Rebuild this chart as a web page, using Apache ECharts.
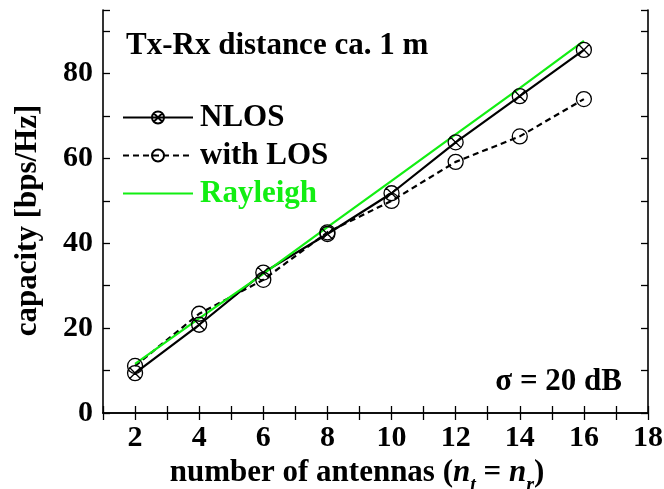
<!DOCTYPE html>
<html>
<head>
<meta charset="utf-8">
<script src="https://cdn.jsdelivr.net/npm/echarts@6/dist/echarts.min.js"></script>
<style>
  html, body { margin: 0; padding: 0; background: #fff; }
  #chart { width: 664px; height: 489px; }
</style>
</head>
<body>
<div id="chart"></div>
<script>
// Number of antennas (n_t = n_r)
const antennas = [2, 4, 6, 8, 10, 12, 14, 16];
// Capacity in bps/Hz
const nlos = [9.4, 20.8, 33.1, 42.2, 51.8, 63.8, 74.7, 85.6];
const withLos = [11.1, 23.4, 31.4, 42.6, 50.0, 59.2, 65.2, 74.0];
const rayleigh = [11.6, 22.3, 32.8, 43.8, 54.7, 65.7, 76.6, 87.7];

const xTickLabels = [2, 4, 6, 8, 10, 12, 14, 16, 18];
const yTickLabels = [0, 20, 40, 60, 80];

const FONT = '"Liberation Serif", "Times New Roman", serif';
const GREEN = '#12ee12';

// circle with a diagonal cross inside
const crossedCircle = 'path://M10,0 A10,10 0 1,1 -10,0 A10,10 0 1,1 10,0 Z M-7.07,-7.07 L7.07,7.07 M7.07,-7.07 L-7.07,7.07';

const pairs = (ys) => antennas.map((x, i) => [x, ys[i]]);

const chart = echarts.init(document.getElementById('chart'), null, { renderer: 'canvas' });

const baseAxisLine = { show: true, lineStyle: { color: '#000', width: 1.6 } };
const inTick = { show: true, inside: true, length: 7, lineStyle: { color: '#000', width: 1.3 } };

chart.setOption({
  animation: false,
  backgroundColor: '#fff',
  grid: { left: 103, right: 16, top: 10, bottom: 76, containLabel: false, outerBoundsMode: 'none' },
  xAxis: [
    {
      type: 'value', min: 1, max: 18, interval: 1,
      axisLine: baseAxisLine, axisTick: inTick, splitLine: { show: false },
      axisLabel: {
        margin: 10, color: '#000', fontFamily: FONT, fontWeight: 'bold', fontSize: 30,
        formatter: (v) => (xTickLabels.indexOf(v) >= 0 ? String(v) : '')
      },
      name: '{a|number of antennas (}{i|n}{s|t}{a| = }{i|n}{s|r}{a|)}',
      nameLocation: 'middle', nameGap: 34,
      nameTextStyle: {
        padding: [0, 37, 0, 0],
        rich: {
          a: { fontFamily: FONT, fontWeight: 'bold', fontSize: 31, color: '#000' },
          i: { fontFamily: FONT, fontWeight: 'bold', fontStyle: 'italic', fontSize: 31, color: '#000' },
          s: { fontFamily: FONT, fontWeight: 'bold', fontStyle: 'italic', fontSize: 20, color: '#000', padding: [24, 0, 0, 0] }
        }
      }
    },
    {
      type: 'value', min: 1, max: 18, interval: 1, position: 'top',
      axisLine: baseAxisLine, axisTick: inTick, axisLabel: { show: false }, splitLine: { show: false }
    }
  ],
  yAxis: [
    {
      type: 'value', min: 0, max: 95, interval: 10,
      axisLine: baseAxisLine, axisTick: inTick, splitLine: { show: false },
      axisLabel: {
        margin: 10, color: '#000', fontFamily: FONT, fontWeight: 'bold', fontSize: 30,
        formatter: (v) => (yTickLabels.indexOf(v) >= 0 ? String(v) : '')
      },
      name: 'capacity [bps/Hz]',
      nameLocation: 'middle', nameGap: 60,
      nameTextStyle: { fontFamily: FONT, fontWeight: 'bold', fontSize: 31, color: '#000', padding: [0, 18, 0, 0] }
    },
    {
      type: 'value', min: 0, max: 95, interval: 10, position: 'right',
      axisLine: baseAxisLine, axisTick: inTick, axisLabel: { show: false }, splitLine: { show: false }
    }
  ],
  legend: {
    orient: 'vertical', left: 122, top: 102, padding: 0,
    itemWidth: 70, itemHeight: 15, itemGap: 7,
    textStyle: { fontFamily: FONT, fontWeight: 'bold', fontSize: 31, color: '#000', padding: [0, 0, 0, 2] },
    data: [
      { name: 'NLOS' },
      { name: 'with LOS' },
      { name: 'Rayleigh', textStyle: { color: GREEN }, itemStyle: { color: 'transparent', borderWidth: 0, opacity: 0 } }
    ]
  },
  graphic: [
    {
      type: 'text', left: 126, top: 30,
      style: { text: 'Tx-Rx distance ca. 1 m', fill: '#000', font: 'bold 31px ' + FONT }
    },
    {
      type: 'text', right: 42, top: 366,
      style: { text: 'σ = 20 dB', fill: '#000', font: 'bold 31px ' + FONT }
    }
  ],
  series: [
    {
      name: 'NLOS', type: 'line', data: pairs(nlos),
      symbol: crossedCircle, symbolSize: 15,
      lineStyle: { color: '#000', width: 2.2 },
      itemStyle: { color: 'transparent', borderColor: '#000', borderWidth: 1.3 }
    },
    {
      name: 'with LOS', type: 'line', data: pairs(withLos),
      symbol: 'circle', symbolSize: 15,
      lineStyle: { color: '#000', width: 2.2, type: [6, 4] },
      itemStyle: { color: 'transparent', borderColor: '#000', borderWidth: 1.3 }
    },
    {
      name: 'Rayleigh', type: 'line', data: pairs(rayleigh),
      symbol: 'none',
      lineStyle: { color: GREEN, width: 2.2 },
      itemStyle: { color: GREEN }
    }
  ]
});
</script>
</body>
</html>
